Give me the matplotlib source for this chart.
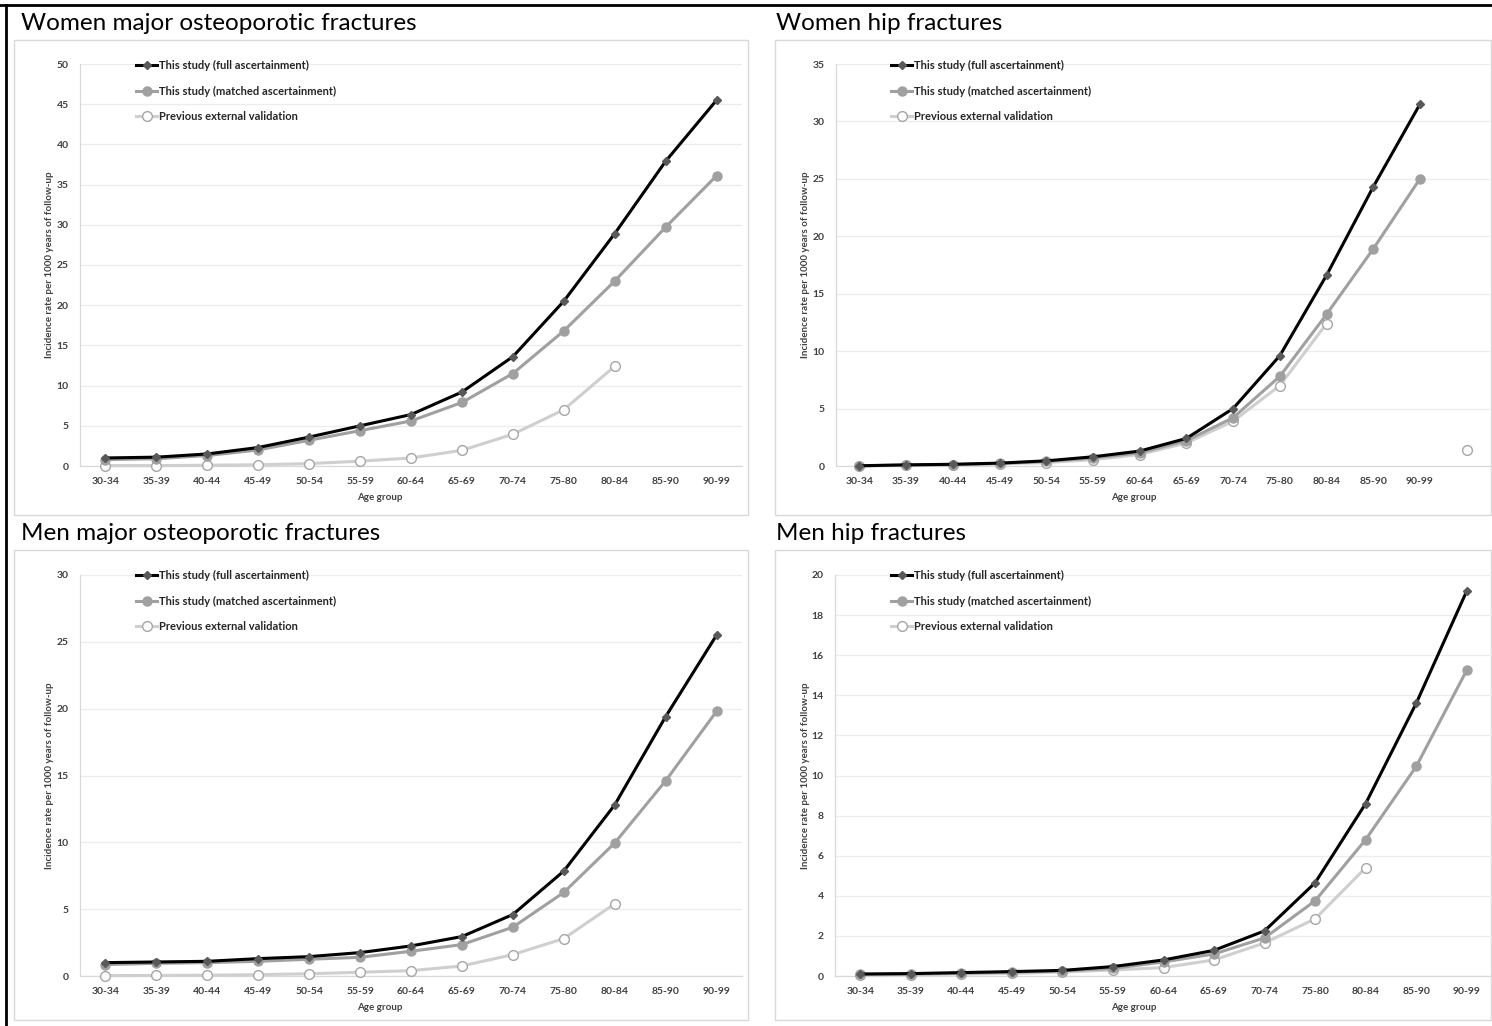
import matplotlib
matplotlib.use("Agg")
import matplotlib.pyplot as plt
from matplotlib.lines import Line2D
from matplotlib.patches import Rectangle
import numpy as np

plt.rcParams['font.family'] = ['Lato', 'DejaVu Sans']

age_groups = ["30-34", "35-39", "40-44", "45-49", "50-54", "55-59", "60-64",
              "65-69", "70-74", "75-80", "80-84", "85-90", "90-99"]

series_names = ["This study (full ascertainment)",
                "This study (matched ascertainment)",
                "Previous external validation"]

# Women major osteoporotic fractures
wm_full = [1.0, 1.1, 1.5, 2.3, 3.6, 5.0, 6.4, 9.2, 13.6, 20.5, 28.9, 37.9, 45.5]
wm_matched = [0.8, 0.9, 1.3, 2.0, 3.2, 4.4, 5.6, 7.9, 11.5, 16.8, 23.0, 29.7, 36.1]
wm_prev = [0.05, 0.05, 0.1, 0.15, 0.3, 0.6, 1.0, 1.95, 3.95, 7.0, 12.4, None, None]

# Women hip fractures (14 slots: last slot has an unlabeled point)
wh_full = [0.02, 0.1, 0.15, 0.25, 0.45, 0.8, 1.3, 2.4, 5.0, 9.6, 16.6, 24.3, 31.5, None]
wh_matched = [0.02, 0.08, 0.12, 0.22, 0.4, 0.7, 1.15, 2.2, 4.2, 7.8, 13.2, 18.9, 25.0, None]
wh_prev = [0.0, 0.05, 0.1, 0.2, 0.3, 0.55, 1.0, 2.0, 3.9, 7.0, 12.4, None, None, 1.4]

# Men major osteoporotic fractures
mm_full = [1.0, 1.05, 1.1, 1.3, 1.45, 1.75, 2.25, 2.95, 4.6, 7.85, 12.8, 19.4, 25.5]
mm_matched = [0.85, 0.95, 1.0, 1.1, 1.25, 1.4, 1.85, 2.35, 3.65, 6.25, 9.95, 14.6, 19.8]
mm_prev = [0.03, 0.04, 0.06, 0.1, 0.17, 0.28, 0.4, 0.75, 1.6, 2.8, 5.4, None, None]

# Men hip fractures
mh_full = [0.1, 0.12, 0.17, 0.22, 0.28, 0.47, 0.8, 1.28, 2.25, 4.65, 8.6, 13.6, 19.2]
mh_matched = [0.08, 0.1, 0.14, 0.19, 0.25, 0.38, 0.7, 1.1, 1.9, 3.75, 6.8, 10.45, 15.25]
mh_prev = [0.05, 0.07, 0.1, 0.13, 0.2, 0.3, 0.42, 0.8, 1.65, 2.85, 5.4, None, None]

W, H = 1492, 1026
fig = plt.figure(figsize=(W / 100, H / 100), dpi=100)
fig.patch.set_facecolor('white')


def fx(px):
    return px / W


def fy(py):
    return 1 - py / H


panels = [
    dict(title="Women major osteoporotic fractures", data=(wm_full, wm_matched, wm_prev),
         ymax=50, ystep=5, box=(14, 40, 748, 515), ax=(80, 64, 742, 466), nslots=13,
         title_xy=(21, 23), leg=(136, 60), xlab_y=497, xlab_x=380, ylab_x=50),
    dict(title="Women hip fractures", data=(wh_full, wh_matched, wh_prev),
         ymax=35, ystep=5, box=(775, 40, 1491, 515), ax=(836, 64, 1490, 466), nslots=14,
         title_xy=(776, 23), leg=(891, 60), xlab_y=497, xlab_x=1134, ylab_x=805),
    dict(title="Men major osteoporotic fractures", data=(mm_full, mm_matched, mm_prev),
         ymax=30, ystep=5, box=(14, 550, 748, 1020), ax=(80, 575, 742, 976), nslots=13,
         title_xy=(21, 534), leg=(136, 570), xlab_y=1007, xlab_x=380, ylab_x=50),
    dict(title="Men hip fractures", data=(mh_full, mh_matched, mh_prev),
         ymax=20, ystep=2, box=(775, 550, 1491, 1020), ax=(835, 575, 1492, 976), nslots=13,
         title_xy=(776, 534), leg=(891, 570), xlab_y=1007, xlab_x=1134, ylab_x=805),
]

styles = [
    dict(color='#000000', lw=2.2, marker='D', ms=4.0, mfc='#595959', mec='#595959', zorder=5),
    dict(color='#a0a0a0', lw=2.2, marker='o', ms=6.5, mfc='#a0a0a0', mec='#a0a0a0', zorder=4),
    dict(color='#cfcfcf', lw=2.2, marker='o', ms=7.0, mfc='white', mec='#a6a6a6', mew=1.0, zorder=3),
]

for p in panels:
    bx0, by0, bx1, by1 = p['box']
    fig.add_artist(Rectangle((fx(bx0), fy(by1)), fx(bx1 - bx0), (by1 - by0) / H,
                             transform=fig.transFigure, facecolor='white',
                             edgecolor='#d9d9d9', lw=1.0, zorder=0))
    fig.text(fx(p['title_xy'][0]), fy(p['title_xy'][1]), p['title'], fontsize=17.5,
             va='center', ha='left', color='black')
    ax0, ay0, ax1, ay1 = p['ax']
    ax = fig.add_axes([fx(ax0), fy(ay1), fx(ax1 - ax0), (ay1 - ay0) / H])
    ax.set_facecolor('none')
    n = p['nslots']
    x = np.arange(n)
    for vals, name, st in zip(p['data'], series_names, styles):
        y = np.array([np.nan if v is None else v for v in vals], dtype=float)
        ax.plot(x[:len(y)], y, label=name, clip_on=False, **st)
    ax.set_xlim(-0.5, n - 0.5)
    ax.set_ylim(0, p['ymax'])
    ax.set_yticks(np.arange(0, p['ymax'] + 0.01, p['ystep']))
    labels = age_groups + [""] * (n - len(age_groups))
    ax.set_xticks(x)
    ax.set_xticklabels(labels)
    for lab in ax.get_xticklabels() + ax.get_yticklabels():
        lab.set_fontsize(7.5)
        lab.set_fontweight('bold')
        lab.set_color('#404040')
    ax.tick_params(length=0)
    ax.tick_params(axis='x', pad=8)
    ax.tick_params(axis='y', pad=8)
    ax.grid(axis='y', color='#ececec', lw=0.9)
    ax.set_axisbelow(True)
    for s in ['top', 'right']:
        ax.spines[s].set_visible(False)
    ax.spines['left'].set_color('#d9d9d9')
    ax.spines['bottom'].set_color('#d9d9d9')
    ax.spines['left'].set_linewidth(0.9)
    ax.spines['bottom'].set_linewidth(0.9)
    # axis titles
    fig.text(fx(p['xlab_x']), fy(p['xlab_y']), "Age group", fontsize=7,
             fontweight='bold', color='#404040', ha='center', va='center')
    fig.text(fx(p['ylab_x']), fy((ay0 + ay1) / 2), "Incidence rate per 1000 years of follow-up",
             fontsize=7, fontweight='bold', color='#404040', ha='center', va='center',
             rotation=90)
    lx, ly = p['leg']
    leg = ax.legend(loc='upper left', bbox_to_anchor=(fx(lx), fy(ly)),
                    bbox_transform=fig.transFigure, frameon=False,
                    prop=dict(size=8, weight='bold'), labelspacing=1.3,
                    handlelength=1.9, handletextpad=0.15, borderpad=0, borderaxespad=0)
    for t in leg.get_texts():
        t.set_color('#262626')

# outer black frame lines
fig.add_artist(Line2D([0, 1], [fy(5), fy(5)], transform=fig.transFigure, color='black', lw=2))
fig.add_artist(Line2D([fx(6), fx(6)], [fy(5), 0], transform=fig.transFigure, color='black', lw=2))

fig.savefig("out.png", dpi=100, facecolor='white')
